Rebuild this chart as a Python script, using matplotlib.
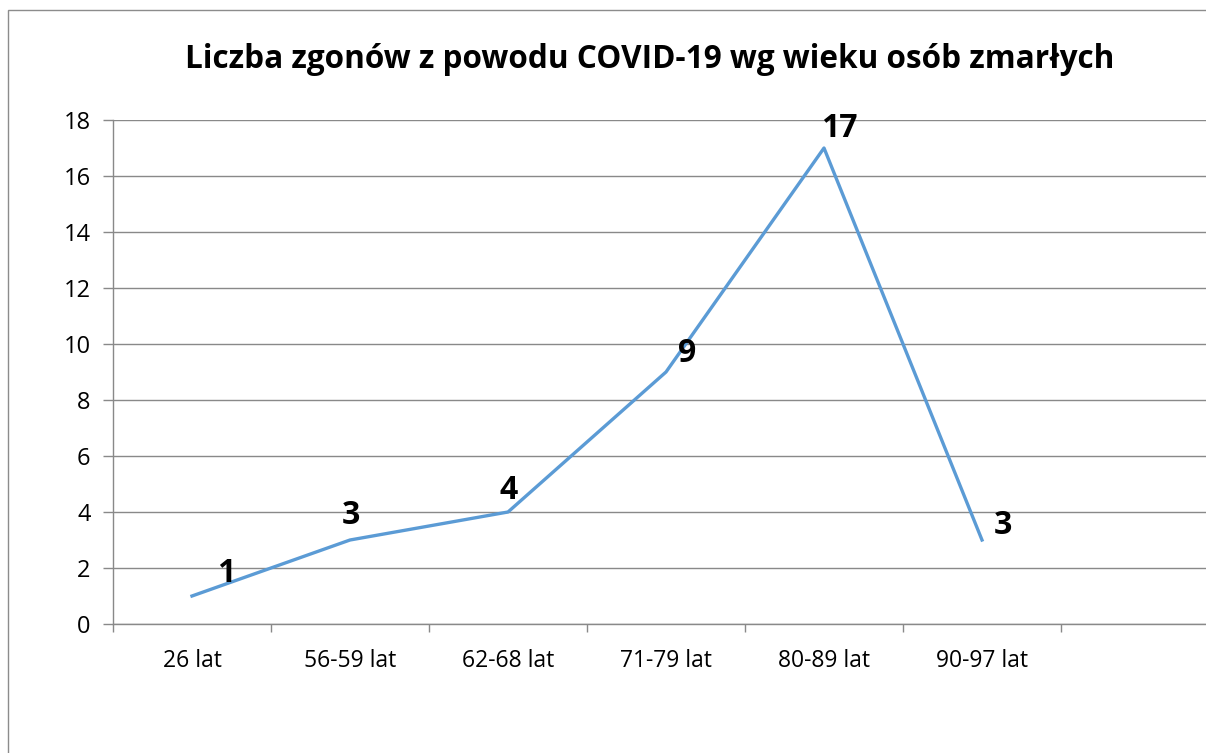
import matplotlib
matplotlib.use("Agg")
import matplotlib.pyplot as plt
from matplotlib.patches import Rectangle

plt.rcParams['font.family'] = ['Open Sans', 'DejaVu Sans']

title = "Liczba zgonów z powodu COVID-19 wg wieku osób zmarłych"
categories = ["26 lat", "56-59 lat", "62-68 lat", "71-79 lat", "80-89 lat", "90-97 lat"]
deaths = [1, 3, 4, 9, 17, 3]
# label offsets (pixels) relative to each point, as placed in the original chart
label_offsets = [(34, 23), (1, 24), (1, 22), (21, 19), (15, 20), (21, 15)]

line_color = "#5B9BD5"
grid_color = "#898989"

fig = plt.figure(figsize=(12.06, 7.53), dpi=100)
W, H = 1206, 753

# outer chart border (cropped on the right and bottom)
fig.patches.append(Rectangle((8 / W, -0.1), 1.2, (H - 10) / H + 0.1,
                             transform=fig.transFigure, fill=False,
                             edgecolor="#8c8c8c", lw=1.0))

n_slots = 7
slot = 158
left, right = 113, 113 + n_slots * slot
top, bottom = 120, 624
ax = fig.add_axes([left / W, 1 - bottom / H, (right - left) / W, (bottom - top) / H])

x = [i + 0.5 for i in range(len(categories))]
ax.plot(x, deaths, color=line_color, lw=2.4, solid_joinstyle='round')

for xi, yi, (dx, dy) in zip(x, deaths, label_offsets):
    ax.annotate(str(yi), (xi, yi), xytext=(dx, dy), textcoords='offset pixels',
                ha='center', va='center', fontsize=23, fontweight='bold', zorder=5)

ax.set_xlim(0, n_slots)
ax.set_ylim(0, 18)
ax.set_yticks(range(0, 19, 2))
ax.set_xticks(range(0, n_slots + 1))
ax.set_xticklabels([])
ax.set_xticks(x, minor=True)
ax.set_xticklabels(categories, minor=True)
ax.tick_params(axis='x', which='minor', length=0, pad=18, labelsize=16.5)
ax.tick_params(axis='x', which='major', length=5.8, color=grid_color, width=1)
ax.tick_params(axis='y', length=7.2, color=grid_color, width=1, labelsize=17, pad=9)

ax.grid(axis='y', color=grid_color, lw=1)
ax.set_axisbelow(True)
for s in ['top', 'right']:
    ax.spines[s].set_visible(False)
for s in ['left', 'bottom']:
    ax.spines[s].set_color(grid_color)
    ax.spines[s].set_linewidth(1)

fig.text(650 / W, 1 - 59 / H, title, ha='center', va='center',
         fontsize=22.7, fontweight='bold')

fig.savefig("out.png", dpi=100)
